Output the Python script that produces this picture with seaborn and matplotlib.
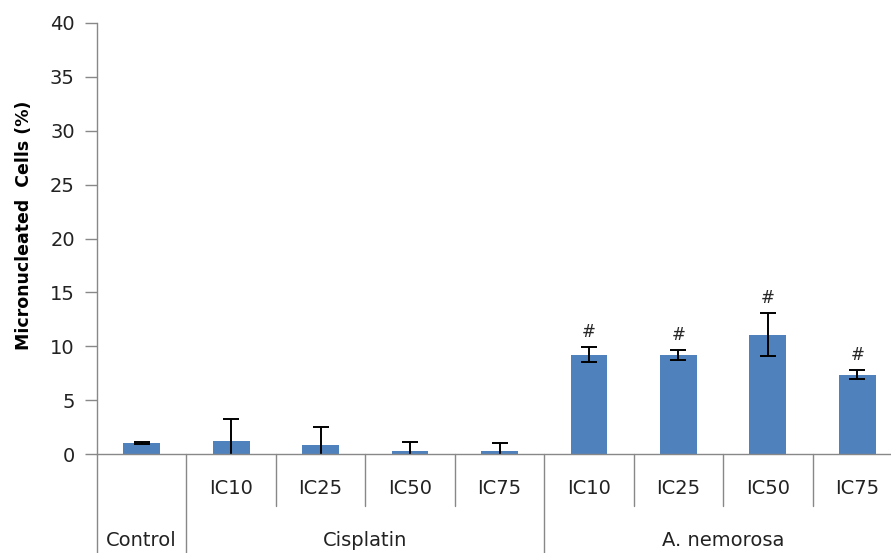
import numpy as np
import pandas as pd
import seaborn as sns
import matplotlib.pyplot as plt
import matplotlib.transforms as mtransforms

# data
keys = ["Control", "Cis IC10", "Cis IC25", "Cis IC50", "Cis IC75",
        "An IC10", "An IC25", "An IC50", "An IC75"]
tick_labels = ["", "IC10", "IC25", "IC50", "IC75", "IC10", "IC25", "IC50", "IC75"]
values = [1.05, 1.23, 0.86, 0.28, 0.25, 9.2, 9.2, 11.05, 7.35]
errors = [0.1, 2.0, 1.6, 0.85, 0.75, 0.7, 0.45, 2.0, 0.4]
signif = ["", "", "", "", "", "#", "#", "#", "#"]
groups = ["Control", "Cisplatin", "A. nemorosa"]
group_spans = [(0, 0), (1, 4), (5, 8)]

sns.set_style("white")
plt.rcParams['font.family'] = ['DejaVu Sans']

df = pd.DataFrame({"cond": keys, "val": values})

fig = plt.figure(figsize=(8.91, 5.53), dpi=100)
ax = fig.add_axes([97 / 891, 99 / 553, 805 / 891, 431 / 553])

sns.barplot(data=df, x="cond", y="val", order=keys, color="#4F81BD",
            width=0.41, errorbar=None, saturation=1, linewidth=0, ax=ax)
x = np.arange(len(keys))
ax.errorbar(x, values, yerr=errors, fmt="none", ecolor="black",
            elinewidth=1.4, capsize=6, capthick=1.4)

for xi, v, e, s in zip(x, values, errors, signif):
    if s:
        ax.text(xi, v + e + 0.6, s, ha="center", va="bottom", fontsize=12)

ax.set_ylim(0, 40)
ax.set_xlim(-0.5, len(keys) - 0.5)
ax.set_yticks(range(0, 41, 5))
ax.tick_params(axis="y", labelsize=14, length=9, width=1, color="#888888",
               direction="out", left=True, labelcolor="#222222", pad=7)
ax.set_xticks([])
ax.set_xlabel("")
ax.set_ylabel("Micronucleated  Cells (%)", fontsize=12.5, fontweight="bold",
              color="black")
ax.yaxis.set_label_coords(-0.079, 0.53)

for side in ["top", "right"]:
    ax.spines[side].set_visible(False)
for side in ["left", "bottom"]:
    ax.spines[side].set_color("#888888")
    ax.spines[side].set_linewidth(1)

# multi-level category axis
trans = mtransforms.blended_transform_factory(ax.transData, ax.transAxes)
sep_kw = dict(color="#888888", lw=1, transform=trans, clip_on=False)
ax.plot([-0.5, -0.5], [0, -0.23], **sep_kw)
for i in range(1, len(keys)):
    full = i in (1, 5)
    ax.plot([i - 0.5, i - 0.5], [0, -0.23 if full else -0.12], **sep_kw)

for xi, lab in zip(x, tick_labels):
    if lab:
        ax.text(xi, -0.079, lab, ha="center", va="center", fontsize=14,
                color="#222222", transform=trans)
for g, (a, b) in zip(groups, group_spans):
    ax.text((a + b) / 2, -0.2, g, ha="center", va="center", fontsize=14,
            color="#222222", transform=trans)

fig.savefig("out.png", dpi=100)
